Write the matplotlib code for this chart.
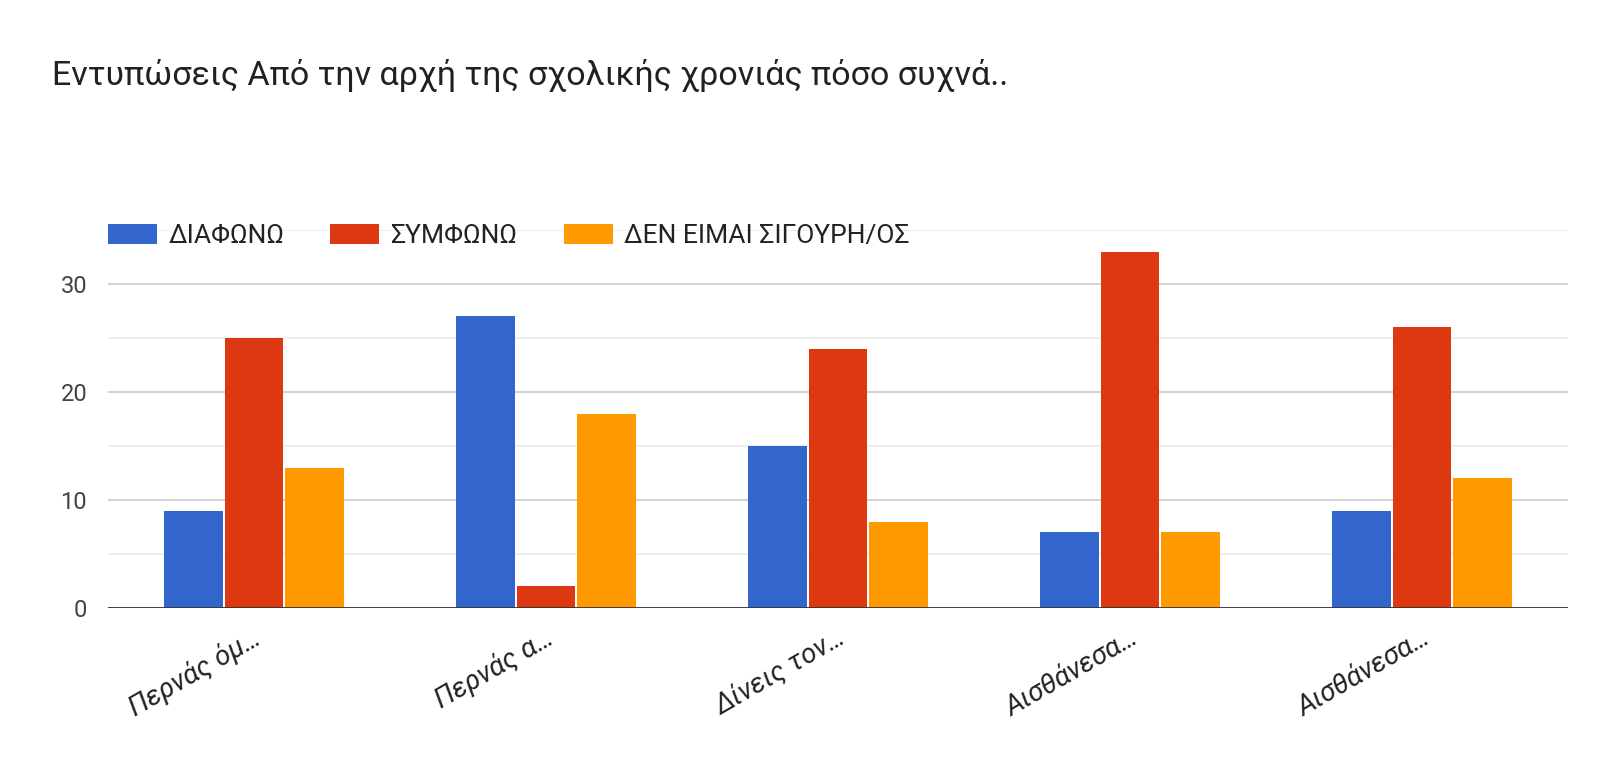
import matplotlib
matplotlib.use("Agg")
import matplotlib.pyplot as plt
import matplotlib.transforms as mtransforms
import numpy as np

plt.rcParams['font.family'] = ['Roboto', 'DejaVu Sans']

title = "Εντυπώσεις Από την αρχή της σχολικής χρονιάς πόσο συχνά.."
categories = ["Περνάς όμ…", "Περνάς α…", "Δίνεις τον…", "Αισθάνεσα…", "Αισθάνεσα…"]
series_names = ["ΔΙΑΦΩΝΩ", "ΣΥΜΦΩΝΩ", "ΔΕΝ ΕΙΜΑΙ ΣΙΓΟΥΡΗ/ΟΣ"]
diafono = [9, 27, 15, 7, 9]
symfono = [25, 2, 24, 33, 26]
den_eimai = [13, 18, 8, 7, 12]
colors = ["#3366cc", "#dc3912", "#ff9900"]

fig = plt.figure(figsize=(16, 7.83), dpi=100)
ax = fig.add_axes([108/1600, 1-608/783, 1460/1600, 378/783])

x = np.arange(len(categories))
w = 0.2
bars = []
for i, (vals, name) in enumerate(zip([diafono, symfono, den_eimai], series_names)):
    b = ax.bar(x + (i-1)*0.207, vals, width=w, color=colors[i], label=name, zorder=3)
    bars.append(b)

ax.set_xlim(-0.5, 4.5)
ax.set_ylim(0, 35)
ax.set_yticks([0, 10, 20, 30])
ax.set_yticks([5, 15, 25, 35], minor=True)
ax.grid(axis='y', which='major', color='#cccccc', lw=1.2, zorder=0)
ax.grid(axis='y', which='minor', color='#ebebeb', lw=1.2, zorder=0)
ax.axhline(0, color='#333333', lw=2, zorder=4)
for s in ax.spines.values():
    s.set_visible(False)
ax.tick_params(axis='both', which='both', length=0)
ax.tick_params(axis='y', labelsize=17, labelcolor='#444444', pad=15)
ax.set_xticks(x)
ax.set_xticklabels(categories, rotation=30, ha='right', va='baseline',
                   rotation_mode='anchor', fontsize=20, color='#222222',
                   style='italic')
ax.tick_params(axis='x', pad=25)
shift = mtransforms.ScaledTranslation(9/100, 0, fig.dpi_scale_trans)
for lab in ax.get_xticklabels():
    lab.set_transform(lab.get_transform() + shift)

fig.text(52/1600, 1-75/783, title, fontsize=24.5, color='#212121', va='center', ha='left')

fig.legend(handles=bars, labels=series_names, loc='center left',
           bbox_to_anchor=(108/1600, 1-236/783), ncol=3, frameon=False,
           borderpad=0, borderaxespad=0,
           fontsize=19, handlelength=1.86, handleheight=0.83, handletextpad=0.42,
           columnspacing=1.75, labelcolor='#222222')

fig.savefig("out.png", dpi=100, facecolor='white')
